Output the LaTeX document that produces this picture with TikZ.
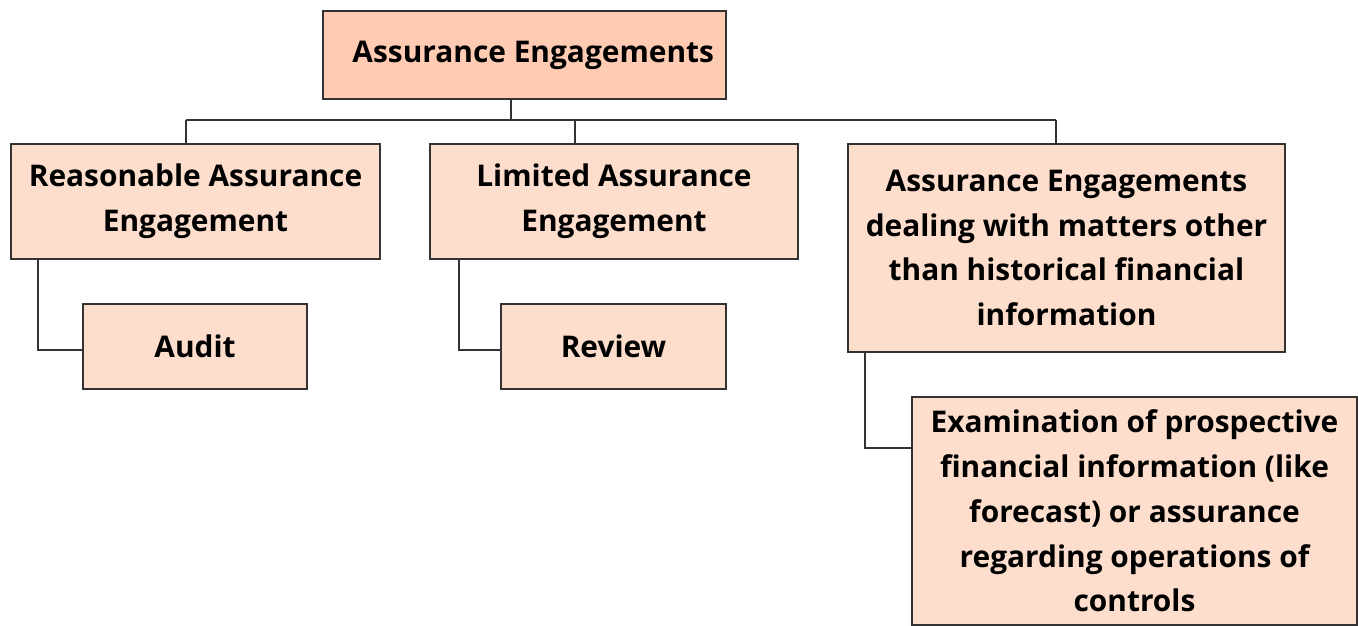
\documentclass[tikz,border=0pt]{standalone}
\usepackage{fontspec}
\setmainfont{Open Sans}
\usepackage{tikz}
\definecolor{engtopcolor}{HTML}{FFCCB3}
\definecolor{engboxcolor}{HTML}{FDDDCC}
\definecolor{englinecolor}{HTML}{333333}

\tikzset{
  engbox/.style={draw=englinecolor, line width=0.8pt, fill=engboxcolor, rectangle,
    align=center, inner sep=0pt, font=\bfseries\fontsize{17pt}{25.5pt}\selectfont},
  engtop/.style={engbox, fill=engtopcolor},
  link/.style={draw=englinecolor, line width=0.7pt}
}

\begin{document}
\begin{tikzpicture}[x=0.02cm, y=-0.02cm]%
\useasboundingbox (0,0) rectangle (1358,625);%
% boxes (pixel grid, y runs down)
\node[engtop, minimum width=8.06cm, minimum height=1.76cm] (top) at (524.5, 55) {\hspace{0.35cm}Assurance Engagements};%
\node[engbox, minimum width=7.38cm, minimum height=2.30cm] (rae) at (195.5, 201.5) {Reasonable Assurance\\Engagement};%
\node[engbox, minimum width=7.36cm, minimum height=2.30cm] (lae) at (614, 201.5) {Limited Assurance\\Engagement};%
\node[engbox, minimum width=8.74cm, minimum height=4.16cm] (other) at (1066.5, 248) {Assurance Engagements\\dealing with matters other\\than historical financial\\information};%
\node[engbox, minimum width=4.48cm, minimum height=1.70cm] (audit) at (195, 346.5) {Audit};%
\node[engbox, minimum width=4.50cm, minimum height=1.70cm] (review) at (613.5, 346.5) {Review};%
\node[engbox, minimum width=8.90cm, minimum height=4.56cm] (exam) at (1134.5, 511) {Examination of prospective\\financial information (like\\forecast) or assurance\\regarding operations of\\controls};%
% bus under the top box
\coordinate (jTop) at (511, 120);%
\coordinate (jR) at (186, 120);%
\coordinate (jL) at (575, 120);%
\coordinate (jO) at (1056, 120);%
\draw[link] (top.south -| jTop) -- (jTop);%
\draw[link] (jR) -- (jO);%
\draw[link] (jR) -- (jR |- rae.north);%
\draw[link] (jL) -- (jL |- lae.north);%
\draw[link] (jO) -- (jO |- other.north);%
% elbows down to the sub boxes
\coordinate (kR) at (38, 350);%
\coordinate (kL) at (459, 350);%
\coordinate (kO) at (865, 448);%
\draw[link] (kR |- rae.south) -- (kR) -- (kR -| audit.west);%
\draw[link] (kL |- lae.south) -- (kL) -- (kL -| review.west);%
\draw[link] (kO |- other.south) -- (kO) -- (kO -| exam.west);%
\end{tikzpicture}
\end{document}
